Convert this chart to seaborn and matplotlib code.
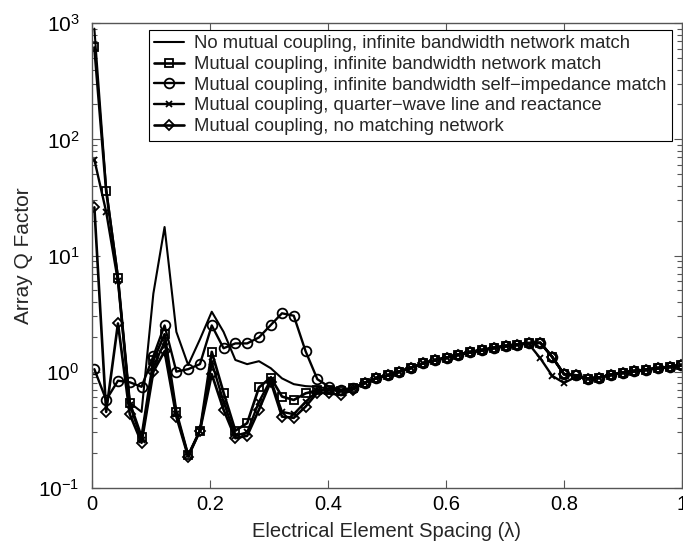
import matplotlib
matplotlib.use("Agg")
import matplotlib.pyplot as plt
import seaborn as sns
import numpy as np
import pandas as pd

# ---------------- data ----------------
spacing = [0.004, 0.024, 0.044, 0.064, 0.084, 0.104, 0.123, 0.143, 0.163, 0.183,
           0.203, 0.223, 0.243, 0.263, 0.283, 0.303, 0.322, 0.342, 0.362, 0.382,
           0.402, 0.422, 0.442, 0.462, 0.482, 0.502, 0.521, 0.541, 0.561, 0.581,
           0.601, 0.621, 0.641, 0.661, 0.681, 0.701, 0.720, 0.740, 0.760, 0.780,
           0.800, 0.820, 0.840, 0.860, 0.880, 0.900, 0.919, 0.939, 0.959, 0.979,
           0.999]

q_no_coupling = [900, 38, 6.6, 0.54, 0.45, 4.7, 17.6, 2.2, 1.14, 1.9,
                 3.28, 2.2, 1.26, 1.16, 1.23, 1.07, 0.875, 0.78, 0.75, 0.74,
                 0.71, 0.69, 0.72, 0.80, 0.88, 0.93, 1.00, 1.08, 1.18, 1.25,
                 1.32, 1.40, 1.47, 1.53, 1.60, 1.66, 1.71, 1.76, 1.77, 1.34,
                 0.95, 0.93, 0.87, 0.89, 0.94, 0.98, 1.01, 1.04, 1.07, 1.10,
                 1.13]

q_network = [620, 36, 6.4, 0.54, 0.275, 1.25, 2.1, 0.45, 0.19, 0.31,
             1.48, 0.66, 0.31, 0.36, 0.73, 0.89, 0.61, 0.57, 0.65, 0.69,
             0.70, 0.68, 0.72, 0.80, 0.88, 0.93, 1.00, 1.08, 1.18, 1.25,
             1.32, 1.40, 1.47, 1.53, 1.60, 1.66, 1.71, 1.76, 1.77, 1.34,
             0.95, 0.93, 0.87, 0.89, 0.94, 0.98, 1.01, 1.04, 1.07, 1.10,
             1.13]

q_self_imp = [1.05, 0.57, 0.835, 0.81, 0.74, 1.36, 2.5, 1.0, 1.05, 1.16,
              2.5, 1.59, 1.75, 1.75, 1.97, 2.52, 3.18, 3.03, 1.50, 0.86,
              0.74, 0.70, 0.72, 0.80, 0.88, 0.93, 1.00, 1.08, 1.18, 1.25,
              1.32, 1.40, 1.47, 1.53, 1.60, 1.66, 1.71, 1.76, 1.77, 1.34,
              0.95, 0.93, 0.87, 0.89, 0.94, 0.98, 1.01, 1.04, 1.07, 1.10,
              1.13]

q_quarter_wave = [67, 23.8, 6.0, 0.52, 0.26, 1.1, 1.8, 0.43, 0.19, 0.31,
                  1.2, 0.55, 0.28, 0.30, 0.55, 0.85, 0.45, 0.43, 0.55, 0.68,
                  0.70, 0.68, 0.72, 0.80, 0.88, 0.93, 1.00, 1.08, 1.18, 1.25,
                  1.32, 1.40, 1.47, 1.53, 1.60, 1.66, 1.71, 1.74, 1.30, 0.92,
                  0.80, 0.90, 0.87, 0.89, 0.94, 0.98, 1.01, 1.04, 1.07, 1.10,
                  1.13]

q_no_network = [26, 0.45, 2.6, 0.43, 0.244, 1.0, 1.5, 0.41, 0.185, 0.31,
                0.95, 0.47, 0.267, 0.28, 0.47, 0.82, 0.41, 0.40, 0.50, 0.66,
                0.65, 0.63, 0.70, 0.80, 0.88, 0.93, 1.00, 1.08, 1.18, 1.25,
                1.32, 1.40, 1.47, 1.53, 1.60, 1.66, 1.71, 1.76, 1.77, 1.34,
                0.95, 0.93, 0.87, 0.89, 0.94, 0.98, 1.01, 1.04, 1.07, 1.10,
                1.13]

labels = ["No mutual coupling, infinite bandwidth network match",
          "Mutual coupling, infinite bandwidth network match",
          "Mutual coupling, infinite bandwidth self\u2212impedance match",
          "Mutual coupling, quarter\u2212wave line and reactance",
          "Mutual coupling, no matching network"]

xtick_values = [0, 0.2, 0.4, 0.6, 0.8, 1]
xtick_labels = ["0", "0.2", "0.4", "0.6", "0.8", "1"]

# ---------------- style ----------------
sns.set_style("ticks")
plt.rcParams["font.family"] = ["Liberation Sans", "DejaVu Sans"]
plt.rcParams["mathtext.fontset"] = "custom"
plt.rcParams["mathtext.rm"] = "Liberation Sans"
plt.rcParams["mathtext.it"] = "Liberation Sans:italic"
plt.rcParams["mathtext.default"] = "regular"

fig = plt.figure(figsize=(6.83, 5.48), dpi=100)
ax = fig.add_axes([0.1347, 0.110, 0.8638, 0.8474])

series = [q_no_coupling, q_network, q_self_imp, q_quarter_wave, q_no_network]
markers = [None, "s", "o", "x", "D"]
msizes = [0, 6, 7, 5, 5.5]
lws = [1.5, 1.9, 1.7, 1.7, 1.9]

for vals, lab, mk, ms, lw in zip(series, labels, markers, msizes, lws):
    df = pd.DataFrame({"x": spacing, "q": vals})
    kw = dict(color="k", linewidth=lw, label=lab)
    if mk is not None:
        kw.update(marker=mk, markersize=ms, markerfacecolor="none",
                  markeredgecolor="k", markeredgewidth=1.3)
    sns.lineplot(data=df, x="x", y="q", ax=ax, **kw)

ax.set_yscale("log")
ax.set_ylim(0.1, 1000)
ax.set_xlim(0, 1)
ax.set_xticks(xtick_values)
ax.set_xticklabels(xtick_labels)

ax.tick_params(which="both", direction="in", top=True, right=True,
               colors="#555555", labelcolor="k")
ax.tick_params(axis="x", which="major", labelsize=14.5, length=6, width=0.8, pad=5)
ax.tick_params(axis="y", which="major", labelsize=15, length=6, width=0.8, pad=9)
ax.tick_params(which="minor", length=3.5, width=0.8)
for sp in ax.spines.values():
    sp.set_color("#555555")
    sp.set_linewidth(1.0)

ax.set_xlabel("Electrical Element Spacing (\u03bb)", fontsize=14.5, labelpad=6)
ax.set_ylabel("Array Q Factor", fontsize=15, labelpad=4)

leg = ax.legend(loc="upper right", bbox_to_anchor=(0.983, 0.986),
                borderaxespad=0, fontsize=13.3, frameon=True, fancybox=False,
                edgecolor="k", framealpha=1, handlelength=1.6,
                labelspacing=0.2, borderpad=0.3, handletextpad=0.55)
leg.get_frame().set_linewidth(0.8)

fig.savefig("out.png", dpi=100)
